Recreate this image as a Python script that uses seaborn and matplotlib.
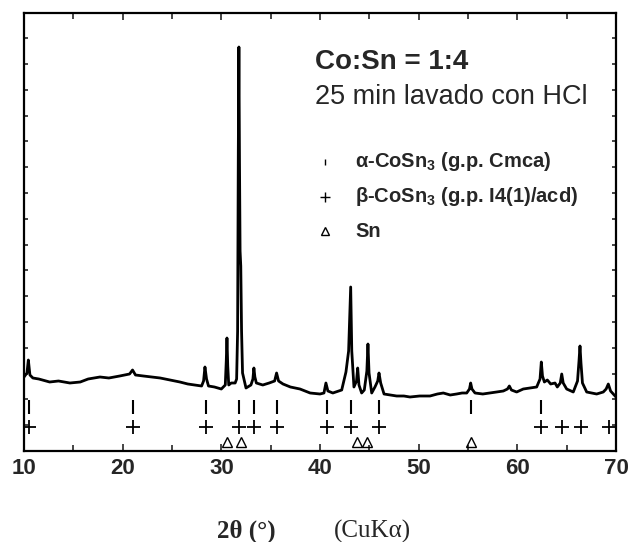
import matplotlib
matplotlib.use("Agg")
import matplotlib.pyplot as plt
from matplotlib.ticker import MultipleLocator
import seaborn as sns
import pandas as pd

# ---- data ----
two_theta = [10.0, 10.3, 10.44, 10.6, 10.9, 11.5, 12.6, 13.5, 14.65, 15.7, 16.5, 17.7,
             18.6, 19.7, 20.7, 21.0, 21.3, 22.1, 23.0, 23.8, 24.8, 25.8, 26.6, 27.3, 28.0,
             28.2, 28.34, 28.5, 28.7, 29.3, 30.0, 30.4, 30.5, 30.57, 30.65, 30.75, 31.0,
             31.4, 31.55, 31.65, 31.72, 31.78, 31.84, 31.9, 31.97, 32.05, 32.15, 32.5,
             33.0, 33.2, 33.3, 33.4, 33.55, 34.2, 34.85, 35.4, 35.6, 35.8, 36.25, 37.0,
             37.97, 39.0, 40.0, 40.4, 40.6, 40.8, 41.3, 42.2, 42.63, 42.9, 43.0, 43.11,
             43.22, 43.44, 43.7, 43.82, 43.95, 44.22, 44.49, 44.75, 44.86, 44.97, 45.24,
             45.57, 45.85, 45.98, 46.15, 46.49, 47.1, 47.77, 48.5, 49.12, 50.1, 51.15,
             51.9, 52.5, 53.2, 53.85, 54.4, 54.87, 55.15, 55.27, 55.4, 55.71, 56.5, 57.23,
             57.9, 58.58, 59.0, 59.19, 59.4, 59.93, 60.6, 61.3, 61.96, 62.3, 62.43, 62.55,
             62.74, 63.04, 63.38, 63.82, 64.05, 64.35, 64.5, 64.65, 65.0, 65.67, 66.1,
             66.25, 66.35, 66.45, 66.6, 67.03, 68.04, 68.71, 69.0, 69.22, 69.45, 69.9, 70.0]
intensity = [74, 78, 91, 76, 73, 72, 69, 70, 68, 69, 72, 74,
             73, 75, 77, 81, 76, 75, 74, 73, 71, 69, 67, 66, 65,
             70, 84, 72, 65, 64, 62, 66, 90, 113, 85, 66, 68,
             68, 72, 120, 300, 404, 290, 200, 185, 120, 78, 63,
             66, 72, 83, 74, 68, 66, 68, 70, 78, 70, 67, 64,
             62, 58, 57, 58, 68, 60, 58, 61, 79, 100, 130, 164,
             100, 64, 70, 83, 66, 58, 61, 80, 107, 78, 58,
             64, 70, 78, 68, 57, 56, 55, 55, 54, 55, 55,
             57, 58, 56, 57, 58, 58, 62, 68, 62, 58, 57, 58,
             59, 60, 62, 65, 61, 59, 62, 63, 64, 72, 89, 75,
             69, 71, 67, 68, 64, 68, 77, 68, 62, 59, 70,
             90, 105, 88, 68, 59, 57, 59, 62, 67, 60, 55, 54]

alpha_CoSn3 = [10.54, 21.07, 28.4, 31.8, 33.3, 35.6, 40.67, 43.16, 46.0, 55.3, 62.4]
beta_CoSn3 = [10.54, 21.07, 28.4, 31.8, 33.3, 35.6, 40.67, 43.16, 46.0, 62.4, 64.5,
              66.5, 69.3]
sn_refl = [30.54, 31.96, 43.7, 44.8, 55.3]

x_ticks = [10, 20, 30, 40, 50, 60, 70]
legend_labels = [r"α-CoSn$_\mathbf{3}$ (g.p. Cmca)",
                 r"β-CoSn$_\mathbf{3}$ (g.p. I4(1)/acd)",
                 "Sn"]
title1 = "Co:Sn = 1:4"
title2 = "25 min lavado con HCl"

# ---- style ----
sns.set_style("white")
plt.rcParams["font.family"] = ["Liberation Sans", "DejaVu Sans"]
plt.rcParams["mathtext.fontset"] = "custom"
plt.rcParams["mathtext.rm"] = "Liberation Sans"
plt.rcParams["mathtext.bf"] = "Liberation Sans:bold"

fig = plt.figure(figsize=(6.31, 5.42), dpi=100)
ax = fig.add_axes([24 / 631, 91 / 542, 592 / 631, 438 / 542])

df = pd.DataFrame({"two_theta": two_theta, "intensity": intensity})
sns.lineplot(data=df, x="two_theta", y="intensity", color="black", linewidth=2.0,
             ax=ax, sort=True, estimator=None)

row_alpha, row_beta, row_sn = 44, 24, 9
ax.plot(alpha_CoSn3, [row_alpha] * len(alpha_CoSn3), ls="none", marker="|",
        markersize=10, markeredgewidth=1.5, color="black")
ax.plot(beta_CoSn3, [row_beta] * len(beta_CoSn3), ls="none", marker="+",
        markersize=10, markeredgewidth=1.3, color="black")
ax.plot(sn_refl, [row_sn] * len(sn_refl), ls="none", marker="^", markersize=7,
        markerfacecolor="none", markeredgewidth=1.0, color="black")

ax.set_xlim(10, 70)
ax.set_ylim(0, 438)
ax.set_xticks(x_ticks)
ax.xaxis.set_minor_locator(MultipleLocator(5))
ax.yaxis.set_major_locator(MultipleLocator(25.8))
ax.set_yticklabels([])
ax.set_xlabel("")
ax.set_ylabel("")
ax.tick_params(axis="x", which="both", direction="in", top=True, bottom=True,
               width=1.2, labelsize=16, pad=5)
ax.tick_params(axis="x", which="major", length=5)
ax.tick_params(axis="x", which="minor", length=4)
ax.tick_params(axis="y", which="major", direction="in", left=True, right=True,
               length=3, width=1.2)
for lab in ax.get_xticklabels():
    lab.set_fontweight("bold")
for sp in ax.spines.values():
    sp.set_linewidth(1.6)
    sp.set_color("black")

# annotation texts
ax.text(0.4916, 0.888, title1, transform=ax.transAxes, fontsize=20,
        fontweight="bold", va="center", ha="left")
ax.text(0.4916, 0.808, title2, transform=ax.transAxes, fontsize=19.5,
        va="center", ha="left")

# manual legend
leg_y = [0.660, 0.580, 0.502]
leg_markers = [dict(marker="|", markersize=5, markeredgewidth=1.0),
               dict(marker="+", markersize=7, markeredgewidth=1.0),
               dict(marker="^", markersize=6, markerfacecolor="none",
                    markeredgewidth=1.0)]
for yy, lab, mk in zip(leg_y, legend_labels, leg_markers):
    ax.plot([0.508], [yy], transform=ax.transAxes, ls="none", color="black", **mk)
    ax.text(0.559, yy, lab, transform=ax.transAxes, fontsize=14.5,
            fontweight="bold", va="center", ha="left")

# x-axis label in two fonts
fig.text(246 / 631, 11 / 542, "2θ (°)", family=["Liberation Serif", "DejaVu Serif"],
         fontweight="bold", fontsize=18, ha="center", va="center")
fig.text(372 / 631, 11 / 542, "(CuKα)", family=["Liberation Serif", "DejaVu Serif"],
         fontsize=18, ha="center", va="center")

fig.savefig("out.png", dpi=100)
